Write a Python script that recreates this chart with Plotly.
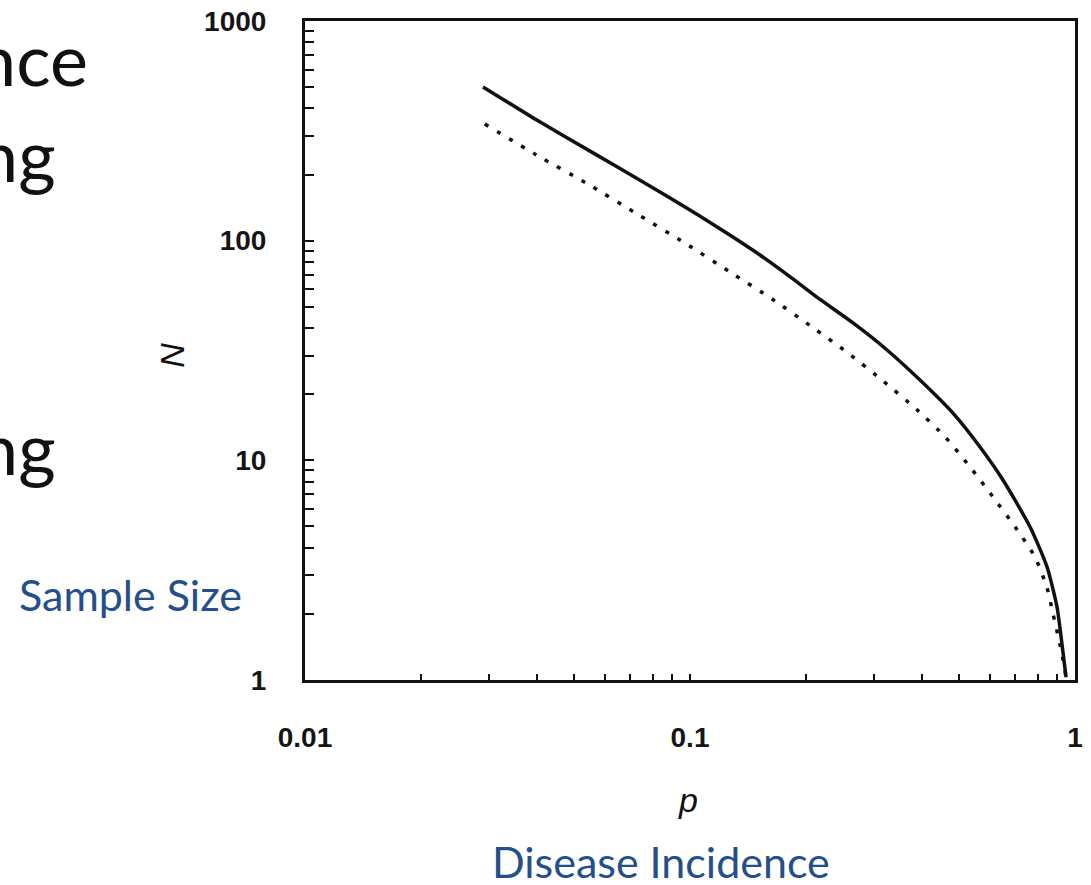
import plotly.graph_objects as go

# Solid curve
p_solid = [0.029, 0.040, 0.056, 0.0755, 0.100, 0.1248, 0.152, 0.185, 0.2177,
           0.2651, 0.3249, 0.3957, 0.482, 0.5666, 0.650, 0.764, 0.846, 0.898, 0.931, 0.948]
n_solid = [501, 354, 251, 185, 138, 108, 86, 67, 54,
           42.2, 31.8, 23.2, 16.4, 11.5, 8.14, 4.98, 3.27, 2.15, 1.33, 1.03]

# Dotted curve
p_dot = [0.0293, 0.0400, 0.0543, 0.0720, 0.0970, 0.1270, 0.1633, 0.2074, 0.2573, 0.3171,
         0.3887, 0.4596, 0.5337, 0.6124, 0.6986, 0.7873, 0.8459, 0.8769, 0.9141, 0.9418, 0.948]
n_dot = [340, 245, 181, 134, 97.6, 72.0, 54.3, 40.5, 30.8, 23.0,
         17.0, 12.8, 9.33, 6.81, 4.98, 3.63, 2.63, 2.0, 1.45, 1.11, 1.0]

y_ticks = [1, 2, 3, 4, 5, 6, 7, 8, 9, 10, 20, 30, 40, 50, 60, 70, 80, 90,
           100, 200, 300, 400, 500, 600, 700, 800, 900, 1000]
y_labels = {1: "1", 10: "10", 100: "100", 1000: "1000"}
x_ticks = [0.01, 0.02, 0.03, 0.04, 0.05, 0.06, 0.07, 0.08, 0.09, 0.1,
           0.2, 0.3, 0.4, 0.5, 0.6, 0.7, 0.8, 0.9, 1]
x_labels = {0.01: "0.01", 0.1: "0.1", 1: "1"}

fig = go.Figure()
fig.add_trace(go.Scatter(x=p_solid, y=n_solid, mode="lines",
                         line=dict(color="#111111", width=3.5, shape="spline", smoothing=0.6),
                         showlegend=False))
fig.add_trace(go.Scatter(x=p_dot, y=n_dot, mode="lines",
                         line=dict(color="#111111", width=3.5, dash="4px,10px", shape="spline", smoothing=0.6),
                         showlegend=False))

tick_font = dict(family="Liberation Sans, Arial, sans-serif", size=28, color="#151515", weight="bold")

fig.update_xaxes(type="log", range=[-2, 0], showline=True, linecolor="#111111", linewidth=3,
                 mirror=True, ticks="inside", ticklen=6, tickwidth=2, tickcolor="#111111",
                 tickmode="array", tickvals=x_ticks,
                 ticktext=[x_labels.get(v, "") for v in x_ticks],
                 tickfont=tick_font, ticklabelstandoff=30, showgrid=False, zeroline=False,
                 automargin=False)
fig.update_yaxes(type="log", range=[0, 3], showline=True, linecolor="#111111", linewidth=3,
                 mirror=True, ticks="inside", ticklen=9, tickwidth=2, tickcolor="#111111",
                 tickmode="array", tickvals=y_ticks,
                 ticktext=[y_labels.get(v, "") for v in y_ticks],
                 tickfont=tick_font, ticklabelstandoff=30, showgrid=False, zeroline=False,
                 automargin=False)

blue = "#254F8A"
slide_font = "Lato, Carlito, Calibri, sans-serif"
annots = [
    dict(text="<i>N</i>", x=-0.172, y=0.493, textangle=-90,
         font=dict(family="Liberation Sans, Arial, sans-serif", size=34, color="#111111")),
    dict(text="<i>p</i>", x=0.497, y=-0.182,
         font=dict(family="Liberation Sans, Arial, sans-serif", size=34, color="#111111")),
    dict(text="Sample Size", x=-0.227, y=0.129, font=dict(family=slide_font, size=43, color=blue)),
    dict(text="Disease Incidence", x=0.462, y=-0.276, font=dict(family=slide_font, size=43, color=blue)),
    dict(text="nce", x=-0.279, y=0.944, xanchor="right", font=dict(family=slide_font, size=72, color="#111111")),
    dict(text="ng", x=-0.321, y=0.798, xanchor="right", font=dict(family=slide_font, size=72, color="#111111")),
    dict(text="ng", x=-0.321, y=0.354, xanchor="right", font=dict(family=slide_font, size=72, color="#111111")),
]
for a in annots:
    a.setdefault("xanchor", "center")
    fig.add_annotation(xref="paper", yref="paper", showarrow=False, yanchor="middle", **a)

fig.update_layout(width=1091, height=885, margin=dict(l=305, r=16, t=21, b=205, autoexpand=False),
                  paper_bgcolor="white", plot_bgcolor="white")

fig.write_html("out.html", config={"displayModeBar": False},
               post_script="document.body.style.margin='0';")
